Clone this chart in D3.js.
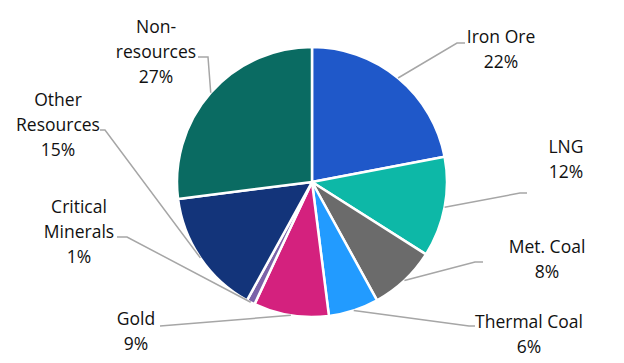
<!DOCTYPE html>
<html><head><meta charset="utf-8">
<script src="https://cdn.jsdelivr.net/npm/d3@7"></script>
<style>body{margin:0;background:#fff}svg{display:block}</style>
</head><body>
<svg id="c" width="624" height="363"></svg>
<script>
const categories = ["Iron Ore","LNG","Met. Coal","Thermal Coal","Gold","Critical Minerals","Other Resources","Non-resources"];
const values = [22,12,8,6,9,1,15,27];
const colors = ["#1F58C9","#0DB8A7","#6B6B6B","#229BFF","#D4217E","#7B62A8","#13347A","#0A6B62"];
const labelLines = [["Iron Ore"],["LNG"],["Met. Coal"],["Thermal Coal"],["Gold"],["Critical","Minerals"],["Other","Resources"],["Non-","resources"]];
// layout: label block centre x, first baseline y, and leader elbow points
const labelPos = [
  {x:501,y:43,  elbow:[[457,43],[465,43]]},
  {x:566,y:153, elbow:[[520,193],[527,193]]},
  {x:547,y:253, elbow:[[475,262],[483,262]]},
  {x:529,y:328, elbow:[[469,326],[475,326]]},
  {x:136,y:325, elbow:[[160,326],[160,326]]},
  {x:79, y:213, elbow:[[127,237],[117,237]]},
  {x:58, y:106, elbow:[[105,130],[100,130]]},
  {x:156,y:33,  elbow:[[208,57],[198,57]]}
];
const svg = d3.select("#c");
const cx = 312, cy = 182, R = 135;
const g = svg.append("g").attr("transform",`translate(${cx},${cy})`);
const data = categories.map((c,i)=>({c,v:values[i],i}));
const pie = d3.pie().value(d=>d.v).sort(null);
const arcs = pie(data);
const arc = d3.arc().innerRadius(0).outerRadius(R);
g.selectAll("path.s").data(arcs).enter().append("path")
  .attr("d",arc).attr("fill",d=>colors[d.data.i])
  .attr("stroke","#fff").attr("stroke-width",2.5).attr("stroke-linejoin","round");
const pct = d3.format(".0%");
const total = d3.sum(values);
arcs.forEach((a,i)=>{
  const m=(a.startAngle+a.endAngle)/2;
  const p=[cx+R*Math.sin(m), cy-R*Math.cos(m)];
  const lp=labelPos[i];
  svg.append("polyline")
    .attr("points",[p,...lp.elbow].map(q=>q.join(",")).join(" "))
    .attr("fill","none").attr("stroke","#A6A6A6").attr("stroke-width",1.5);
  const lines=[...labelLines[i], pct(values[i]/total)];
  const t=svg.append("text").attr("text-anchor","middle")
    .attr("font-family","'Open Sans', sans-serif").attr("font-size",17.5).attr("fill","#111");
  lines.forEach((s,k)=>t.append("tspan").attr("x",lp.x).attr("y",lp.y+k*25).text(s));
});
</script>
</body></html>
